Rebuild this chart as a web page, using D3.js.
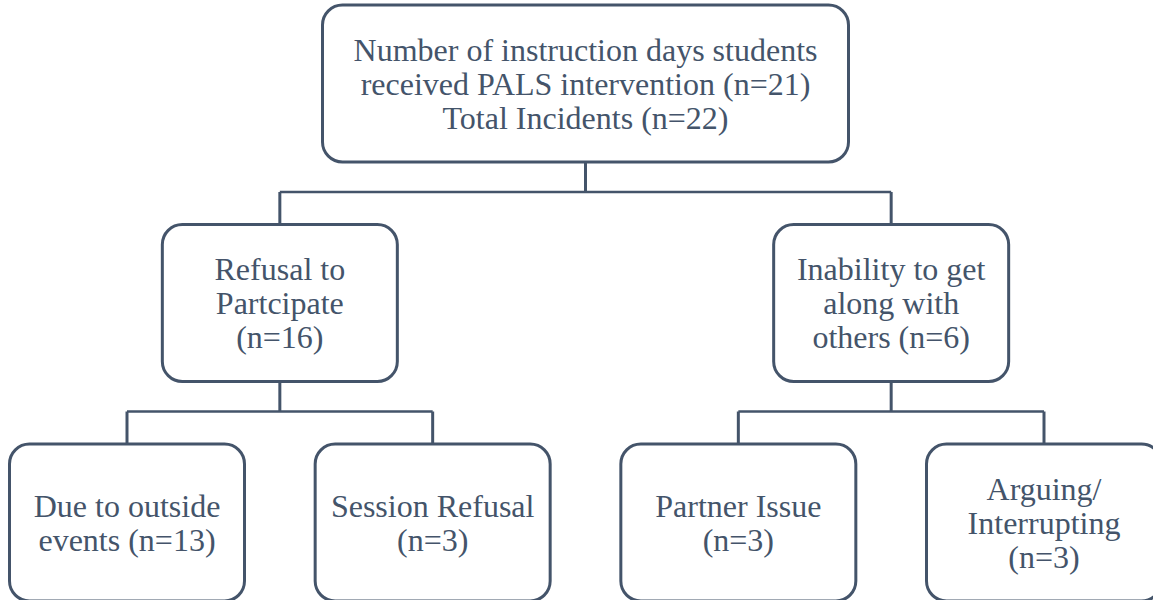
<!DOCTYPE html>
<html>
<head>
<meta charset="utf-8">
<script src="https://cdn.jsdelivr.net/npm/d3@7"></script>
<style>
  body { margin: 0; background: #fff; }
  svg { display: block; }
  .lbl { font-family: 'Liberation Serif', Tinos, 'Times New Roman', Times, 'DejaVu Serif', serif; }
</style>
</head>
<body>
<div id="chart"></div>
<script>
// tree data: each node has an id, its parent and the lines of its label
const ids = ['root', 'refusal', 'inability', 'outside', 'session', 'partner', 'arguing']
const parents = ['', 'root', 'root', 'refusal', 'refusal', 'inability', 'inability']
const labels = [
  ['Number of instruction days students', 'received PALS intervention (n=21)', 'Total Incidents (n=22)'],
  ['Refusal to', 'Partcipate', '(n=16)'],
  ['Inability to get', 'along with', 'others (n=6)'],
  ['Due to outside', 'events (n=13)'],
  ['Session Refusal', '(n=3)'],
  ['Partner Issue', '(n=3)'],
  ['Arguing/', 'Interrupting', '(n=3)']
]

const width = 1153,
  height = 600
const ink = '#44546a'

const rows = ids.map((id, i) => ({ id: id, parent: parents[i], lines: labels[i] }))
const root = d3.stratify().id(d => d.id).parentId(d => d.parent || null)(rows)

d3.tree().size([1, 2]).separation(() => 1)(root)

const xScale = d3.scaleLinear()
  .domain(d3.extent(root.leaves(), d => d.x))
  .range([127, 1044])
const yScale = d3.scaleLinear().domain([0, 2]).range([5, 444])

const boxW = d => d.depth === 0 ? 526 : 235
const boxH = 157
const lineH = 34

const svg = d3.select('#chart')
  .append('svg')
  .attr('width', width)
  .attr('height', height)

// elbow connectors
root.descendants().filter(d => d.children).forEach(p => {
  const px = xScale(p.x)
  const bottom = yScale(p.depth) + boxH
  const midY = bottom + 30
  const xs = p.children.map(c => xScale(c.x))
  svg.append('line')
    .attr('x1', px).attr('x2', px)
    .attr('y1', bottom).attr('y2', midY)
    .attr('stroke', ink).attr('stroke-width', 3)
  svg.append('line')
    .attr('x1', d3.min(xs)).attr('x2', d3.max(xs))
    .attr('y1', midY).attr('y2', midY)
    .attr('stroke', ink).attr('stroke-width', 2.5)
  p.children.forEach(c => {
    svg.append('line')
      .attr('x1', xScale(c.x)).attr('x2', xScale(c.x))
      .attr('y1', midY).attr('y2', yScale(c.depth))
      .attr('stroke', ink).attr('stroke-width', 3)
  })
})

const node = svg.selectAll('g.node')
  .data(root.descendants())
  .enter()
  .append('g')
  .attr('class', 'node')
  .attr('transform', d => 'translate(' + xScale(d.x) + ',' + yScale(d.depth) + ')')

node.append('rect')
  .attr('x', d => -boxW(d) / 2)
  .attr('y', 0)
  .attr('width', boxW)
  .attr('height', boxH)
  .attr('rx', 20)
  .attr('ry', 20)
  .attr('fill', '#fff')
  .attr('stroke', ink)
  .attr('stroke-width', 3)

node.each(function(d) {
  const lines = d.data.lines
  const g = d3.select(this)
  lines.forEach((t, i) => {
    g.append('text')
      .attr('class', 'lbl')
      .attr('x', 0)
      .attr('y', boxH / 2 + (i - (lines.length - 1) / 2) * lineH)
      .attr('dy', '0.35em')
      .attr('text-anchor', 'middle')
      .attr('font-size', '32px')
      .attr('fill', ink)
      .text(t)
  })
})
</script>
</body>
</html>
